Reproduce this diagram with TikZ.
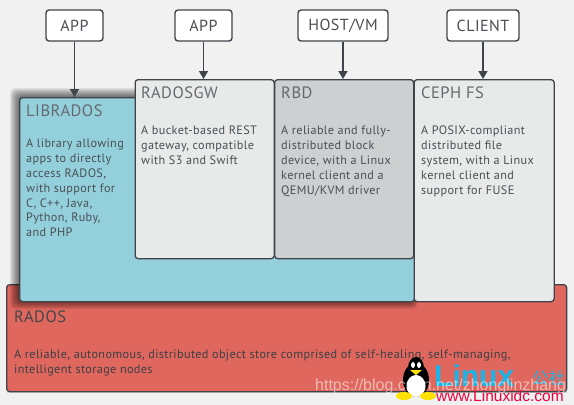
\documentclass[tikz,border=0pt]{standalone}
\usepackage{fontspec}
\setmainfont[LetterSpace=3]{PT Sans}
\newfontfamily\wmfont{Liberation Sans}
\newfontfamily\cjkwm{Noto Sans CJK SC}
\usetikzlibrary{arrows.meta,shapes.geometric}
\definecolor{edge}{HTML}{3F444B}
\definecolor{ink}{HTML}{4A4F55}
\definecolor{page}{HTML}{F1F1F1}
\definecolor{libfill}{HTML}{93D0DC}
\definecolor{gwfill}{HTML}{E8E9E9}
\definecolor{rbdfill}{HTML}{CDD0D1}
\definecolor{radfill}{HTML}{E0675E}
\definecolor{wmblue}{HTML}{1AB5E8}
\definecolor{wmred}{HTML}{F5003C}
\newcommand{\lowr}[1]{\raisebox{-1.5pt}{#1}}
\tikzset{
  x=1pt,y=-1pt,
  panel/.style={draw=edge,line width=1.3pt,rounded corners=3pt,anchor=north west,inner sep=0pt},
  clientbox/.style={panel,fill=white,line width=1.4pt,text=ink,anchor=center,font=\fontsize{16}{16}\selectfont},
  title/.style={anchor=north west,inner sep=0pt,text=ink!85,font=\fontsize{16.5}{20}\selectfont},
  body/.style={anchor=north west,inner sep=0pt,text=ink,align=left,font=\fontsize{12.2}{14.8}\selectfont},
  link/.style={draw=edge,line width=1.6pt,-{Triangle[length=8pt,width=9pt]}},
}
\begin{document}
\begin{tikzpicture}
\useasboundingbox (0,0) rectangle (574,405);
\fill[page] (0,0) rectangle (574,405);
% RADOS
\fill[black,opacity=.12] (7,287) rectangle (567,393);
\node[panel,fill=radfill,minimum width=560,minimum height=107] (rados) at (6,284) {};
\node[title,text=ink!90!black] (radost) at (14,311) {RADOS};
\node[body,text=ink!80!black] (radosb) at (14,350) {A reliable, autonomous, distributed object store comprised of self-healing, self-managing,\\intelligent storage nodes};
% LIBRADOS shadow
\foreach \d in {9,8,7,6,5,4,3,2,1}{
  \fill[black,opacity=.07,rounded corners=5pt] (19-\d,97-\d) rectangle (413+\d*.5,300+\d);
}
\node[panel,fill=libfill,minimum width=395,minimum height=204] (lib) at (19,97) {};
\node[title] (libt) at (26,105) {LIBRADOS};
\node[body] (libb) at (26,139) {A library allowing\\apps to directly\\access RADOS,\\with support for\\C, C++, Java,\\Python, Ruby,\\and PHP};
% Interface panels
\node[panel,fill=gwfill,minimum width=139,minimum height=179] (gw) at (134.5,79) {};
\node[title] (gwt) at (141,87) {RADOSGW};
\node[body] (gwb) at (141,126) {A bucket-based REST\\gateway, compatible\\with S3 and Swift};
\node[panel,fill=rbdfill,minimum width=139,minimum height=179] (rbd) at (274,79) {};
\node[title] (rbdt) at (281,87) {RBD};
\node[body] (rbdb) at (281,126) {A reliable and fully-\\distributed block\\device, with a Linux\\kernel client and a\\QEMU/KVM driver};
\node[panel,fill=gwfill,minimum width=140,minimum height=222] (ceph) at (413.5,79) {};
\node[title] (cepht) at (421,87) {CEPH FS};
\node[body] (cephb) at (421,126) {A POSIX-compliant\\distributed file\\system, with a Linux\\kernel client and\\support for FUSE};
% Clients
\node[clientbox,minimum width=57,minimum height=31] (app1) at (74.5,25.5) {\lowr{APP}};
\node[clientbox,minimum width=57,minimum height=31] (app2) at (203.5,25.5) {\lowr{APP}};
\node[clientbox,minimum width=90,minimum height=31] (host) at (343,25.5) {\lowr{HOST/VM}};
\node[clientbox,minimum width=72,minimum height=31] (client) at (483,25.5) {\lowr{CLIENT}};
\draw[link] (app1.south) -- (app1.south |- lib.north);
\draw[link] (app2.south) -- (app2.south |- gw.north);
\draw[link] (host.south) -- (host.south |- rbd.north);
\draw[link] (client.south) -- (client.south |- ceph.north);
% Watermark penguin
\fill[black] (416,380) ellipse (13 and 17);
\fill[black] (416,368) ellipse (8 and 11);
\fill[white] (416,386) ellipse (9.5 and 11);
\fill[white] (413,365) ellipse (2 and 3);
\fill[white] (419,365) ellipse (2 and 3);
\fill[yellow!85!orange] (410,370) -- (422,370) -- (416,375) -- cycle;
\fill[yellow!85!orange] (404,396) ellipse (8 and 4);
\fill[yellow!85!orange] (428,396) ellipse (8 and 4);
% Watermark text
\node[anchor=west,inner sep=0pt,text=wmblue,font={\wmfont\bfseries\fontsize{30}{30}\selectfont}] (wm2) at (434,376) {Linux};
\node[anchor=west,inner sep=0pt,text=wmblue,font={\cjkwm\fontsize{16.5}{16.5}\selectfont}] (wm3) at (532,378) {公社};
\node[anchor=west,inner sep=0pt,text=white,opacity=.55,font={\wmfont\fontsize{16}{16}\selectfont}] (wm1) at (315,386) {https://blog.csdn.net/zhonglinzhang};
\node[anchor=west,inner sep=0pt,text=wmred,font={\wmfont\fontsize{15.5}{15.5}\selectfont}] (wm4) at (436,396) {www.Linuxidc.com};
\end{tikzpicture}
\end{document}
